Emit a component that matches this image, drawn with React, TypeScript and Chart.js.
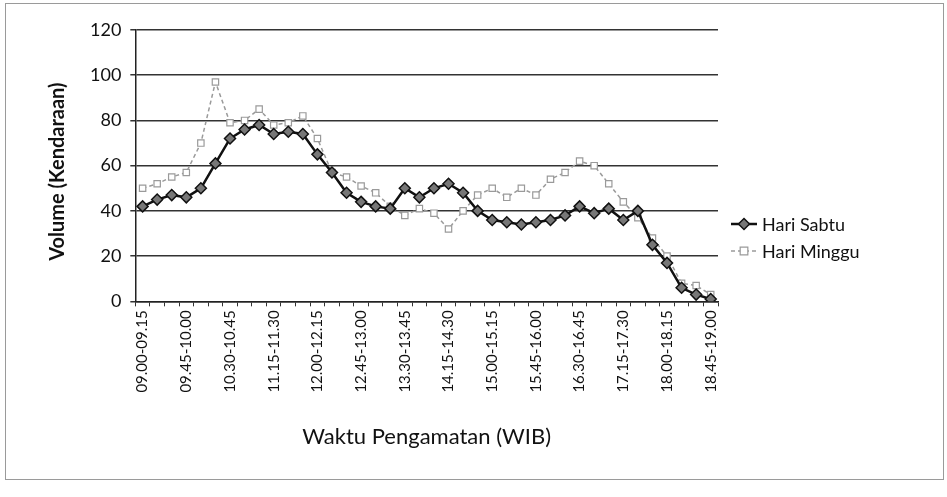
import React, { useEffect, useRef } from "react";
import { Chart, registerables } from "chart.js";

Chart.register(...registerables);

const categories: string[] = [
  "09.00-09.15", "09.15-09.30", "09.30-09.45", "09.45-10.00", "10.00-10.15",
  "10.15-10.30", "10.30-10.45", "10.45-11.00", "11.00-11.15", "11.15-11.30",
  "11.30-11.45", "11.45-12.00", "12.00-12.15", "12.15-12.30", "12.30-12.45",
  "12.45-13.00", "13.00-13.15", "13.15-13.30", "13.30-13.45", "13.45-14.00",
  "14.00-14.15", "14.15-14.30", "14.30-14.45", "14.45-15.00", "15.00-15.15",
  "15.15-15.30", "15.30-15.45", "15.45-16.00", "16.00-16.15", "16.15-16.30",
  "16.30-16.45", "16.45-17.00", "17.00-17.15", "17.15-17.30", "17.30-17.45",
  "17.45-18.00", "18.00-18.15", "18.15-18.30", "18.30-18.45", "18.45-19.00",
];

const hariSabtu: number[] = [
  42, 45, 47, 46, 50, 61, 72, 76, 78, 74,
  75, 74, 65, 57, 48, 44, 42, 41, 50, 46,
  50, 52, 48, 40, 36, 35, 34, 35, 36, 38,
  42, 39, 41, 36, 40, 25, 17, 6, 3, 1,
];

const hariMinggu: number[] = [
  50, 52, 55, 57, 70, 97, 79, 80, 85, 78,
  79, 82, 72, 57, 55, 51, 48, 42, 38, 41,
  39, 32, 40, 47, 50, 46, 50, 47, 54, 57,
  62, 60, 52, 44, 37, 28, 20, 8, 7, 3,
];

const yTicks: number[] = [0, 20, 40, 60, 80, 100, 120];
const seriesNames: string[] = ["Hari Sabtu", "Hari Minggu"];
const yTitle = "Volume (Kendaraan)";
const xTitle = "Waktu Pengamatan (WIB)";

const FONT = "Lato, 'Open Sans', sans-serif";

const yTitlePlugin = {
  id: "yTitle",
  afterDraw(chart: any) {
    const ctx = chart.ctx;
    const area = chart.chartArea;
    ctx.save();
    ctx.translate(58, (area.top + area.bottom) / 2 + 6);
    ctx.rotate(-Math.PI / 2);
    ctx.fillStyle = "#111";
    ctx.font = `bold 20px ${FONT}`;
    ctx.textAlign = "center";
    ctx.textBaseline = "middle";
    ctx.fillText(yTitle, 0, 0);
    ctx.restore();
  },
};

const legendPlugin = {
  id: "customLegend",
  afterDraw(chart: any) {
    const ctx = chart.ctx;
    const ds = chart.data.datasets;
    const x0 = 731;
    const rows = [224, 251];
    ctx.save();
    ds.forEach((d: any, i: number) => {
      const y = rows[i];
      ctx.beginPath();
      ctx.strokeStyle = d.borderColor;
      ctx.lineWidth = d.borderWidth;
      ctx.setLineDash(d.borderDash || []);
      ctx.moveTo(x0, y);
      ctx.lineTo(x0 + 26, y);
      ctx.stroke();
      ctx.setLineDash([]);
      const cx = x0 + 13;
      ctx.fillStyle = d.pointBackgroundColor;
      ctx.strokeStyle = d.pointBorderColor;
      ctx.lineWidth = d.pointBorderWidth;
      const r = d.pointRadius;
      ctx.beginPath();
      if (d.pointStyle === "rectRot") {
        ctx.moveTo(cx, y - r);
        ctx.lineTo(cx + r, y);
        ctx.lineTo(cx, y + r);
        ctx.lineTo(cx - r, y);
        ctx.closePath();
      } else {
        const s = r * 0.85;
        ctx.rect(cx - s, y - s, 2 * s, 2 * s);
      }
      ctx.fill();
      ctx.stroke();
      ctx.fillStyle = "#111";
      ctx.font = `18px ${FONT}`;
      ctx.textBaseline = "middle";
      ctx.textAlign = "left";
      ctx.fillText(d.label, x0 + 31, y + 1);
    });
    // outer frame
    ctx.strokeStyle = "#9a9a9a";
    ctx.lineWidth = 1;
    ctx.strokeRect(5.5, 3.5, 938, 476);
    ctx.restore();
  },
};

const bgPlugin = {
  id: "bgWhite",
  beforeDraw(chart: any) {
    const ctx = chart.ctx;
    ctx.save();
    ctx.fillStyle = "#fff";
    ctx.fillRect(0, 0, chart.width, chart.height);
    ctx.restore();
  },
};

export default function App() {
  const ref = useRef<HTMLCanvasElement | null>(null);
  useEffect(() => {
    if (!ref.current) return;
    const chart = new Chart(ref.current, {
      type: "line",
      data: {
        labels: categories,
        datasets: [
          {
            label: seriesNames[0],
            data: hariSabtu,
            borderColor: "#111",
            borderWidth: 2.5,
            pointStyle: "rectRot",
            pointRadius: 5.5,
            pointBackgroundColor: "#777",
            pointBorderColor: "#111",
            pointBorderWidth: 1.5,
            tension: 0,
            order: 1,
          },
          {
            label: seriesNames[1],
            data: hariMinggu,
            borderColor: "#9a9a9a",
            borderWidth: 1.5,
            borderDash: [4, 3],
            pointStyle: "rect",
            pointRadius: 4.5,
            pointBackgroundColor: "#fff",
            pointBorderColor: "#9a9a9a",
            pointBorderWidth: 1.2,
            tension: 0,
            order: 2,
          },
        ],
      },
      options: {
        responsive: false,
        animation: false,
        layout: { padding: { left: 81, top: 30, right: 229, bottom: 47 } },
        plugins: {
          legend: { display: false },
          tooltip: { enabled: false },
        },
        scales: {
          x: {
            type: "category",
            offset: true,
            grid: {
              offset: true,
              drawOnChartArea: false,
              drawTicks: true,
              tickLength: 5,
              color: "#333",
            },
            border: { display: true, color: "#222", width: 1.5 },
            ticks: {
              autoSkip: false,
              minRotation: 90,
              maxRotation: 90,
              color: "#111",
              font: { family: FONT, size: 15 },
              padding: 4,
              callback: function (_v: any, i: number) {
                return i % 3 === 0 ? categories[i] : "";
              },
            },
            title: {
              display: true,
              text: xTitle,
              color: "#111",
              font: { family: FONT, size: 22 },
              padding: { top: 27, bottom: 0 },
            },
          },
          y: {
            min: 0,
            max: 120,
            afterBuildTicks: (axis: any) => {
              axis.ticks = yTicks.map((v) => ({ value: v }));
            },
            grid: {
              color: "#333",
              lineWidth: 1.5,
              drawTicks: true,
              tickLength: 5,
            },
            border: { display: true, color: "#222", width: 1.5 },
            ticks: {
              color: "#111",
              font: { family: FONT, size: 18 },
              padding: 9,
            },
            title: { display: false },
          },
        },
      },
      plugins: [bgPlugin, legendPlugin, yTitlePlugin],
    });
    return () => chart.destroy();
  }, []);
  return (
    <div style={{ position: "fixed", left: 0, top: 0, width: 947, height: 497 }}>
      <canvas ref={ref} width={947} height={497} style={{ display: "block" }} />
    </div>
  );
}
